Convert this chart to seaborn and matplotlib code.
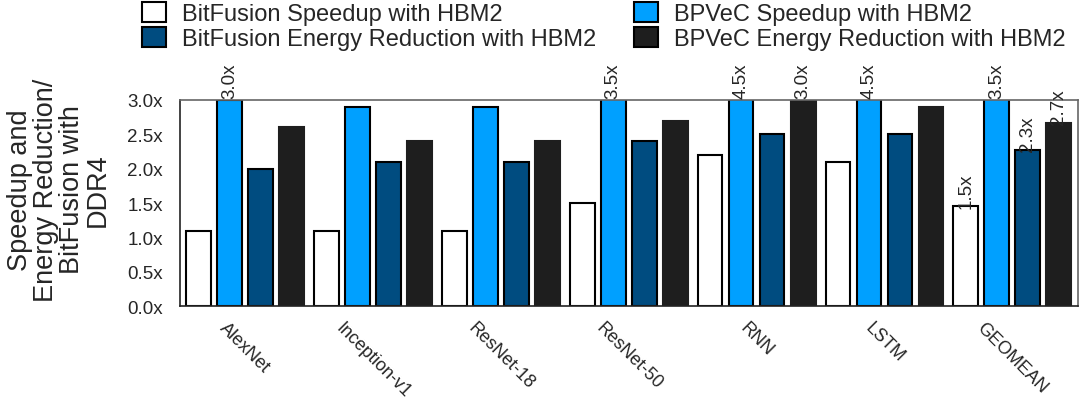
import matplotlib
matplotlib.use("Agg")
import matplotlib.pyplot as plt
import seaborn as sns
import pandas as pd
from matplotlib.patches import Patch

categories = ["AlexNet", "Inception-v1", "ResNet-18", "ResNet-50", "RNN", "LSTM", "GEOMEAN"]
series_names = ["BitFusion Speedup with HBM2", "BPVeC Speedup with HBM2",
                "BitFusion Energy Reduction with HBM2", "BPVeC Energy Reduction with HBM2"]
bf_speedup = [1.1, 1.1, 1.1, 1.5, 2.2, 2.1, 1.45]
bpvec_speedup = [3.0, 2.9, 2.9, 3.5, 4.5, 4.5, 3.5]
bf_energy = [2.0, 2.1, 2.1, 2.4, 2.5, 2.5, 2.27]
bpvec_energy = [2.6, 2.4, 2.4, 2.7, 3.0, 2.9, 2.67]
# value labels: (series index, category index, text)
value_labels = [(1, 0, "3.0x"), (1, 3, "3.5x"), (1, 4, "4.5x"), (3, 4, "3.0x"),
                (1, 5, "4.5x"), (0, 6, "1.5x"), (1, 6, "3.5x"), (2, 6, "2.3x"), (3, 6, "2.7x")]
ytick_vals = [0.0, 0.5, 1.0, 1.5, 2.0, 2.5, 3.0]
ytick_labels = ["0.0x", "0.5x", "1.0x", "1.5x", "2.0x", "2.5x", "3.0x"]
colors = ["#FFFFFF", "#00A0FF", "#004C80", "#1E1E1E"]
edges = ["#000000", "#000000", "#000000", "#1E1E1E"]

all_vals = [bf_speedup, bpvec_speedup, bf_energy, bpvec_energy]
rows = []
for s, vals in zip(series_names, all_vals):
    for c, v in zip(categories, vals):
        rows.append({"cat": c, "series": s, "val": v})
df = pd.DataFrame(rows)

sns.set_theme(style="white")
plt.rcParams["font.family"] = ["Liberation Sans", "DejaVu Sans"]

fig = plt.figure(figsize=(10.83, 4.02), dpi=100)
ax = fig.add_axes([0.166, 0.236, 0.829, 0.513])

sns.barplot(data=df, x="cat", y="val", hue="series", order=categories,
            hue_order=series_names, palette=colors, saturation=1, width=0.97, gap=0.2,
            ax=ax, legend=False, errorbar=None)

n = len(categories)
for si in range(4):
    for ci in range(n):
        p = ax.patches[si * n + ci]
        p.set_edgecolor(edges[si])
        p.set_linewidth(1.5)

ax.set_ylim(0, 3.0)
ax.set_xlim(-0.51, n - 1 + 0.51)
ax.set_yticks(ytick_vals)
ax.set_yticklabels(ytick_labels, fontsize=13.5)
ax.tick_params(axis="y", length=0, pad=12)
ax.tick_params(axis="x", length=0, pad=9)
ax.set_xlabel("")
ax.set_ylabel("Speedup and\nEnergy Reduction/\nBitFusion with\nDDR4", fontsize=19.5,
              linespacing=1.0)
ax.yaxis.set_label_coords(-0.077, 0.568)
ax.set_xticks(range(n))
ax.set_xticklabels(categories, rotation=-45, ha="center", va="top", fontsize=13)
for sp in ax.spines.values():
    sp.set_color("#666666")
    sp.set_linewidth(1.2)
ax.spines["left"].set_color("#222222")
ax.spines["bottom"].set_color("#222222")

for si, ci, txt in value_labels:
    p = ax.patches[si * n + ci]
    xc = p.get_x() + p.get_width() / 2
    h = p.get_height()
    yv = 3.0 + 0.03 if h >= 3.0 else h - 0.02
    ax.text(xc, yv, txt, rotation=90, ha="center", va="bottom",
            fontsize=13.5, clip_on=False)

handles = [Patch(facecolor=colors[i], edgecolor="#000000", linewidth=1.5) for i in range(4)]
order = [0, 2, 1, 3]
fig.legend([handles[i] for i in order], [series_names[i] for i in order],
           loc="upper left", bbox_to_anchor=(142 / 1083, 1.0 - 3 / 402), ncol=2, frameon=False,
           fontsize=17, handlelength=1.0, handleheight=0.93, handletextpad=0.7,
           columnspacing=1.6, labelspacing=0.08, borderaxespad=0.0, borderpad=0.0)

fig.savefig("out.png", dpi=100)
